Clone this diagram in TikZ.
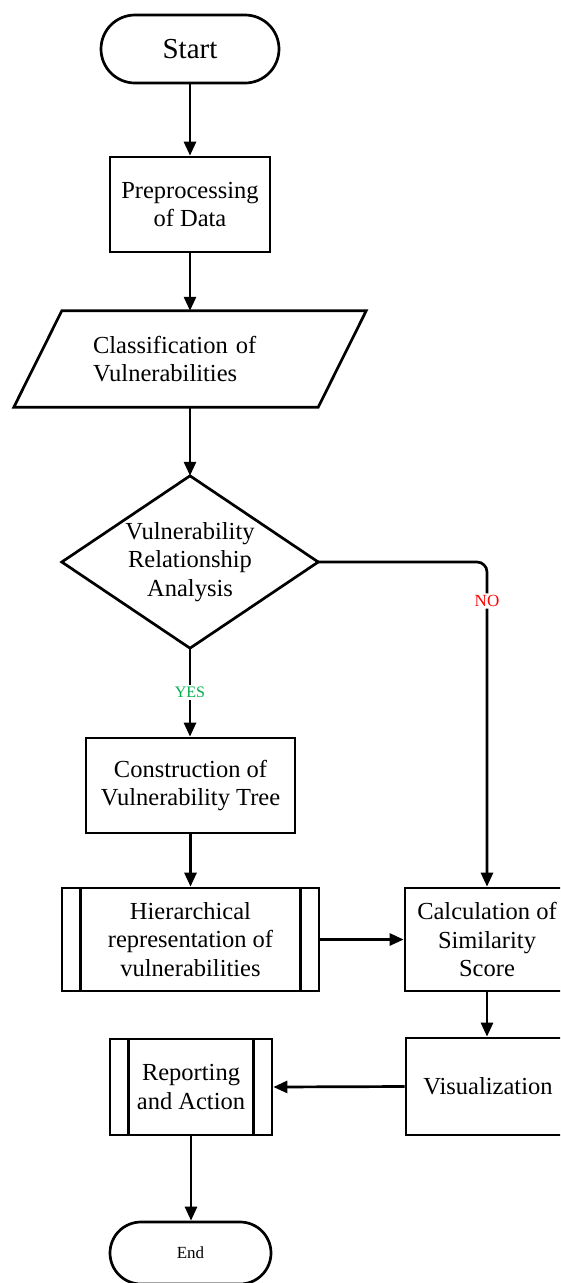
\documentclass[tikz,border=0pt]{standalone}
\usepackage{fontspec}
\setmainfont{Liberation Serif}
\usetikzlibrary{arrows.meta}

\tikzset{
  base/.style={line width=2.7pt, draw=black},
  txt/.style={font=\fontsize{24.5}{28.5}\selectfont, align=center, text=black, inner sep=0pt},
  terminal/.style={base, fill=white, txt},
  procbox/.style={base, fill=white, txt, rectangle},
  hidden/.style={txt, draw=none, rectangle},
  barline/.style={line width=2.7pt},
  flow/.style={line width=2.7pt, -{Triangle[width=12pt,length=14pt]}},
  yeslabel/.style={fill=white, text={rgb,255:red,0;green,176;blue,80}, font=\fontsize{16}{18}\selectfont, inner sep=2pt},
  nolabel/.style={fill=white, text=red, font=\fontsize{17}{19}\selectfont, inner sep=2pt}
}

\begin{document}
\begin{tikzpicture}[x=1pt, y=-1pt]
\clip (0,0) rectangle (560,1283);
\fill[white] (0,0) rectangle (560,1283);

% terminals and boxes
\node[terminal, rounded corners=34pt, minimum width=178pt, minimum height=68pt,
      font=\fontsize{29}{32}\selectfont] (start) at (190,49) {Start};
\node[procbox, minimum width=160pt, minimum height=95pt] (pre) at (190,204.5)
      {Preprocessing\\of Data};

% parallelogram: left-aligned text node, outline drawn from its corners
\node[hidden, minimum height=96pt, text width=194pt, inner xsep=79pt, align=left]
      (cls) at (190,359) {Classification of\\Vulnerabilities};
\draw[base] ([xshift=48pt]cls.north west) -- (cls.north east)
      -- ([xshift=-48pt]cls.south east) -- (cls.south west) -- cycle;

% decision diamond
\node[hidden, minimum width=256pt, minimum height=172pt] (dec) at (190,562)
      {Vulnerability\\Relationship\\Analysis};
\draw[base] (dec.north) -- (dec.east) -- (dec.south) -- (dec.west) -- cycle;

\node[procbox, minimum width=209pt, minimum height=95pt] (tree) at (190.5,785.5)
      {Construction of\\Vulnerability Tree};

% predefined process: hierarchy
\node[procbox, minimum width=257pt, minimum height=103pt] (hier) at (190.5,939.5)
      {Hierarchical\\representation of\\vulnerabilities};
\draw[barline] ([xshift=20pt]hier.north west) -- ([xshift=20pt]hier.south west);
\draw[barline] ([xshift=-20pt]hier.north east) -- ([xshift=-20pt]hier.south east);

\node[procbox, minimum width=164pt, minimum height=103pt] (calc) at (487,939.5)
      {Calculation of\\Similarity\\Score};
\node[procbox, minimum width=164pt, minimum height=97pt] (vis) at (488,1086.5)
      {Visualization};

% predefined process: reporting
\node[procbox, minimum width=162pt, minimum height=96pt] (rep) at (191,1087)
      {Reporting\\and Action};
\draw[barline] ([xshift=20pt]rep.north west) -- ([xshift=20pt]rep.south west);
\draw[barline] ([xshift=-20pt]rep.north east) -- ([xshift=-20pt]rep.south east);

\node[terminal, rounded corners=31pt, minimum width=161pt, minimum height=62pt,
      font=\fontsize{17}{19}\selectfont] (stop) at (190.5,1253) {End};

% connectors
\draw[flow] (start.south) -- (pre.north);
\draw[flow] (pre.south) -- (pre.south |- cls.north);
\draw[flow] (cls.south) -- (dec.north);
\draw[flow, rounded corners=10pt] (dec.east) -| (calc.north)
      node[nolabel, pos=0.56] {NO};
\draw[flow] (dec.south) -- (dec.south |- tree.north)
      node[yeslabel, midway] {YES};
\draw[flow] (tree.south) -- (tree.south |- hier.north);
\draw[flow] (hier.east) -- (calc.west);
\draw[flow] (calc.south) -- (calc.south |- vis.north);
\draw[flow] (vis.west) -- (rep.east);
\draw[flow] (rep.south) -- (rep.south |- stop.north);
\end{tikzpicture}
\end{document}
